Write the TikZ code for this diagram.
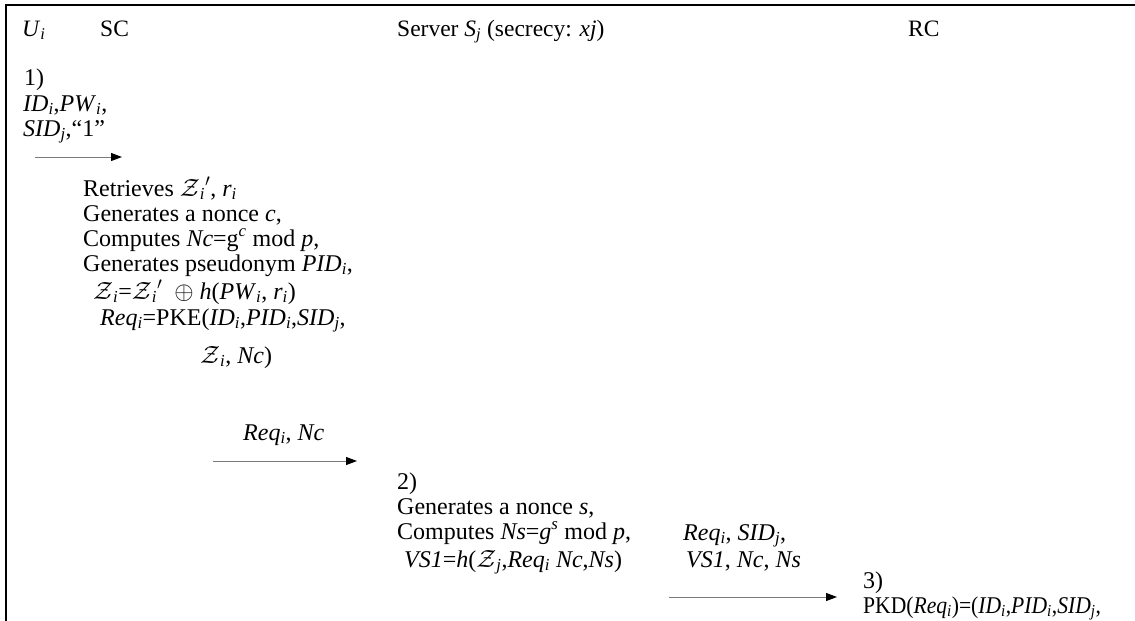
\documentclass[tikz,border=0pt]{standalone}
\usepackage{fontspec}
\setmainfont{Liberation Serif}
\usetikzlibrary{arrows.meta, positioning}
\definecolor{ink}{HTML}{000000}
\definecolor{shaft}{HTML}{7A7A7A}
\tikzset{
  every picture/.style={line cap=butt, line join=miter},
  txt/.style={anchor=base west, inner sep=0pt, text=ink,
              font=\fontsize{24}{25}\selectfont},
  head/.style={txt, font=\fontsize{23.5}{25}\selectfont},
  squeeze/.style={transform shape, xscale=0.9},
  msg/.style={draw=shaft, line width=1pt,
              -{Triangle[length=11pt, width=8pt, color=ink]}},
  frame/.style={draw=ink, line width=2pt},
}
% italic symbol with an italic subscript
\newcommand\vsub[2]{\textit{#1}\textsubscript{\textit{#2}}}
\newcommand\zed[1]{\ensuremath{\mathcal{Z}}\textsubscript{\textit{#1}}}

\begin{document}
\begin{tikzpicture}[x=1pt, y=-1pt]
  \useasboundingbox (0,0) rectangle (1135,621);
  % frame (open at the right and at the bottom)
  \draw[frame] (6,621) -- (6,5) -- (1135,5);
  % header row
  \node[head] (ui) at (22,36) {\vsub{U}{i}};
  \node[head] (sc) at (100,36) {SC};
  \node[head] (srv) at (397,36) {Server \vsub{S}{j} (secrecy: \textit{xj})};
  \node[head] (rc) at (908,36) {RC};
  % step 1: user -> smart card
  \node[txt] (n1) at (24,85) {1)};
  \node[txt] (in1) at (23,111) {\vsub{ID}{i},\vsub{PW}{i},};
  \node[txt] (in2) at (23,136) {\vsub{SID}{j},``1''};
  \coordinate (a1s) at (35,157);
  \coordinate (a1e) at (122,157);
  \node[txt] (c1) at (83,196) {Retrieves \zed{i}\ensuremath{'}, \vsub{r}{i}};
  \node[txt] (c2) at (83,221) {Generates a nonce \textit{c},};
  \node[txt] (c3) at (83,246) {Computes \textit{Nc}=g\textsuperscript{\textit{c}} mod \textit{p},};
  \node[txt] (c4) at (83,271) {Generates pseudonym \vsub{PID}{i},};
  \node[txt] (c5) at (93,299) {\zed{i}=\zed{i}\ensuremath{'}\ \ \ensuremath{\oplus} \textit{h}(\vsub{PW}{i}, \vsub{r}{i})};
  \node[txt] (c6) at (100,325) {\vsub{Req}{i}=PKE(\vsub{ID}{i},\vsub{PID}{i},\vsub{SID}{j},};
  \node[txt] (c7) at (200,363) {\zed{i}, \textit{Nc})};
  % smart card -> server
  \node[txt] (m1) at (243,440) {\vsub{Req}{i}, \textit{Nc}};
  \coordinate (a2s) at (213,461);
  \coordinate (a2e) at (357,461);
  % step 2: server
  \node[txt] (n2) at (397,489) {2)};
  \node[txt] (s1) at (397,514) {Generates a nonce \textit{s},};
  \node[txt] (s2) at (397,539) {Computes \textit{Ns}=\textit{g}\textsuperscript{\textit{s}} mod \textit{p},};
  \node[txt] (s3) at (404,567) {\textit{VS1}=\textit{h}(\zed{j},\vsub{Req}{i} \textit{Nc},\textit{Ns})};
  % server -> RC
  \node[txt] (m2) at (683,540) {\vsub{Req}{i}, \vsub{SID}{j},};
  \node[txt] (m3) at (686,567) {\textit{VS1}, \textit{Nc}, \textit{Ns}};
  \coordinate (a3s) at (669,597);
  \coordinate (a3e) at (837,597);
  % step 3: RC
  \node[txt] (n3) at (863,588) {3)};
  \node[txt, squeeze] (r1) at (863,613) {PKD(\vsub{Req}{i})=(\vsub{ID}{i},\vsub{PID}{i},\vsub{SID}{j},};
  % messages
  \draw[msg] (a1s) -- (a1e);
  \draw[msg] (a2s) -- (a2e);
  \draw[msg] (a3s) -- (a3e);
\end{tikzpicture}
\end{document}
